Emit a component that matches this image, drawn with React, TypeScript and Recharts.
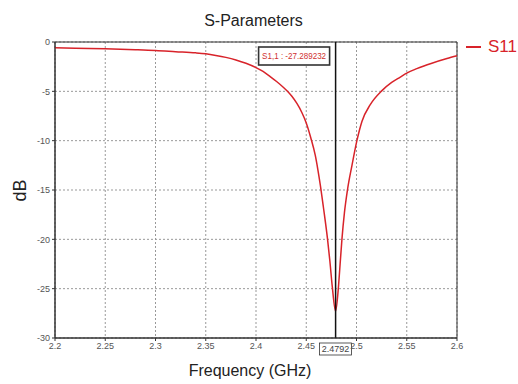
import React from "react";
import {
  LineChart,
  Line,
  XAxis,
  YAxis,
  CartesianGrid,
  ReferenceLine,
  ReferenceArea,
} from "recharts";

// S11 sweep (GHz / dB)
const freqGHz = [
  2.2, 2.22, 2.25, 2.28, 2.3, 2.32, 2.34, 2.35, 2.36, 2.37, 2.38, 2.39, 2.4, 2.407, 2.4141,
  2.4208, 2.4274, 2.4308, 2.4357, 2.4407, 2.4455, 2.45, 2.4545, 2.459, 2.4615, 2.464, 2.467,
  2.4712, 2.4735, 2.4759, 2.4792, 2.4819, 2.4837, 2.4855, 2.488, 2.491, 2.4955, 2.5004, 2.5054,
  2.5137, 2.5253, 2.535, 2.5436, 2.55, 2.56, 2.575, 2.59, 2.6,
];
const s11dB = [
  -0.59, -0.64, -0.69, -0.78, -0.86, -0.98, -1.1, -1.2, -1.36, -1.56, -1.82, -2.16, -2.6, -2.98,
  -3.5, -4.03, -4.61, -4.94, -5.5, -6.23, -7.12, -8.2, -9.7, -11.5, -12.9, -14.5, -16.7, -20.0,
  -22.2, -24.8, -27.289232, -25.0, -22.5, -20.0, -17.3, -15.0, -12.5, -10.0, -8.05, -6.35, -4.93,
  -4.1, -3.55, -3.15, -2.7, -2.15, -1.68, -1.4,
];

const xTicks = [2.2, 2.25, 2.3, 2.35, 2.4, 2.45, 2.5, 2.55, 2.6];
const yTicks = [-30, -25, -20, -15, -10, -5, 0];

const markerFreq = 2.4792;
const markerValue = -27.289232;
const seriesName = "S11";

const RED = "#d8232a";
const FONT = "'Liberation Sans', Arial, sans-serif";

const data = freqGHz.map((f, i) => ({ f, s11: s11dB[i] }));

function MarkerLabel(props: any) {
  const vb = props.viewBox || {};
  const x = vb.x ?? 0;
  const top = vb.y ?? 0;
  const bottom = top + (vb.height ?? 0);
  return (
    <g>
      <rect x={x - 77} y={top + 5} width={71} height={18} fill="#fff" stroke="#333" strokeWidth={1.6} />
      <text
        x={x - 41.5}
        y={top + 17.3}
        textAnchor="middle"
        fontSize={9}
        fontFamily={FONT}
        fill="#d03030"
        textLength={64}
        lengthAdjust="spacingAndGlyphs"
      >
        {`S1,1 : ${markerValue}`}
      </text>
      <rect x={x - 16} y={bottom + 5} width={32} height={12} fill="#fff" stroke="#333" strokeWidth={0.8} />
      <text x={x} y={bottom + 14} textAnchor="middle" fontSize={9} fontFamily={FONT} fill="#444">
        {markerFreq}
      </text>
    </g>
  );
}

export default function App() {
  const tickStyle = { fill: "#555", fontSize: 9, fontFamily: FONT };
  return (
    <div style={{ position: "absolute", left: 0, top: 0, width: 518, height: 384, background: "#fff" }}>
      <div
        style={{
          position: "absolute",
          left: 0,
          top: 12,
          width: 507,
          textAlign: "center",
          fontFamily: FONT,
          fontSize: 16,
          color: "#222",
        }}
      >
        S-Parameters
      </div>
      <LineChart width={518} height={384} data={data} margin={{ top: 42, right: 61, bottom: 0, left: 0 }}>
        <CartesianGrid stroke="#999" strokeDasharray="2 2" />
        <XAxis
          dataKey="f"
          type="number"
          domain={[2.2, 2.6]}
          ticks={xTicks}
          tick={tickStyle}
          tickSize={3}
          stroke="#333"
          height={46}
          interval={0}
        />
        <YAxis
          type="number"
          domain={[-30, 0]}
          ticks={yTicks}
          tick={tickStyle}
          tickSize={3}
          stroke="#333"
          width={55}
          interval={0}
        />
        <ReferenceArea x1={2.2} x2={2.6} y1={-30} y2={0} fill="none" stroke="#333" strokeWidth={1} />
        <Line
          dataKey="s11"
          type="monotone"
          stroke={RED}
          strokeWidth={1.5}
          dot={false}
          isAnimationActive={false}
        />
        <ReferenceLine x={markerFreq} stroke="#111" strokeWidth={1.5} label={<MarkerLabel />} />
      </LineChart>
      <div
        style={{
          position: "absolute",
          left: 0,
          top: 15,
          width: 40,
          height: 351,
          display: "flex",
          alignItems: "center",
          justifyContent: "center",
        }}
      >
        <div
          style={{
            transform: "rotate(-90deg)",
            fontFamily: FONT,
            fontSize: 18,
            color: "#222",
            whiteSpace: "nowrap",
          }}
        >
          dB
        </div>
      </div>
      <div
        style={{
          position: "absolute",
          left: 0,
          top: 362,
          width: 500,
          textAlign: "center",
          fontFamily: FONT,
          fontSize: 16,
          color: "#222",
        }}
      >
        Frequency (GHz)
      </div>
      <div
        style={{
          position: "absolute",
          left: 466,
          top: 37,
          display: "flex",
          alignItems: "center",
          fontFamily: FONT,
          fontSize: 17,
          color: RED,
        }}
      >
        <span style={{ display: "inline-block", width: 15, height: 2, background: RED, marginRight: 7 }} />
        {seriesName}
      </div>
    </div>
  );
}
